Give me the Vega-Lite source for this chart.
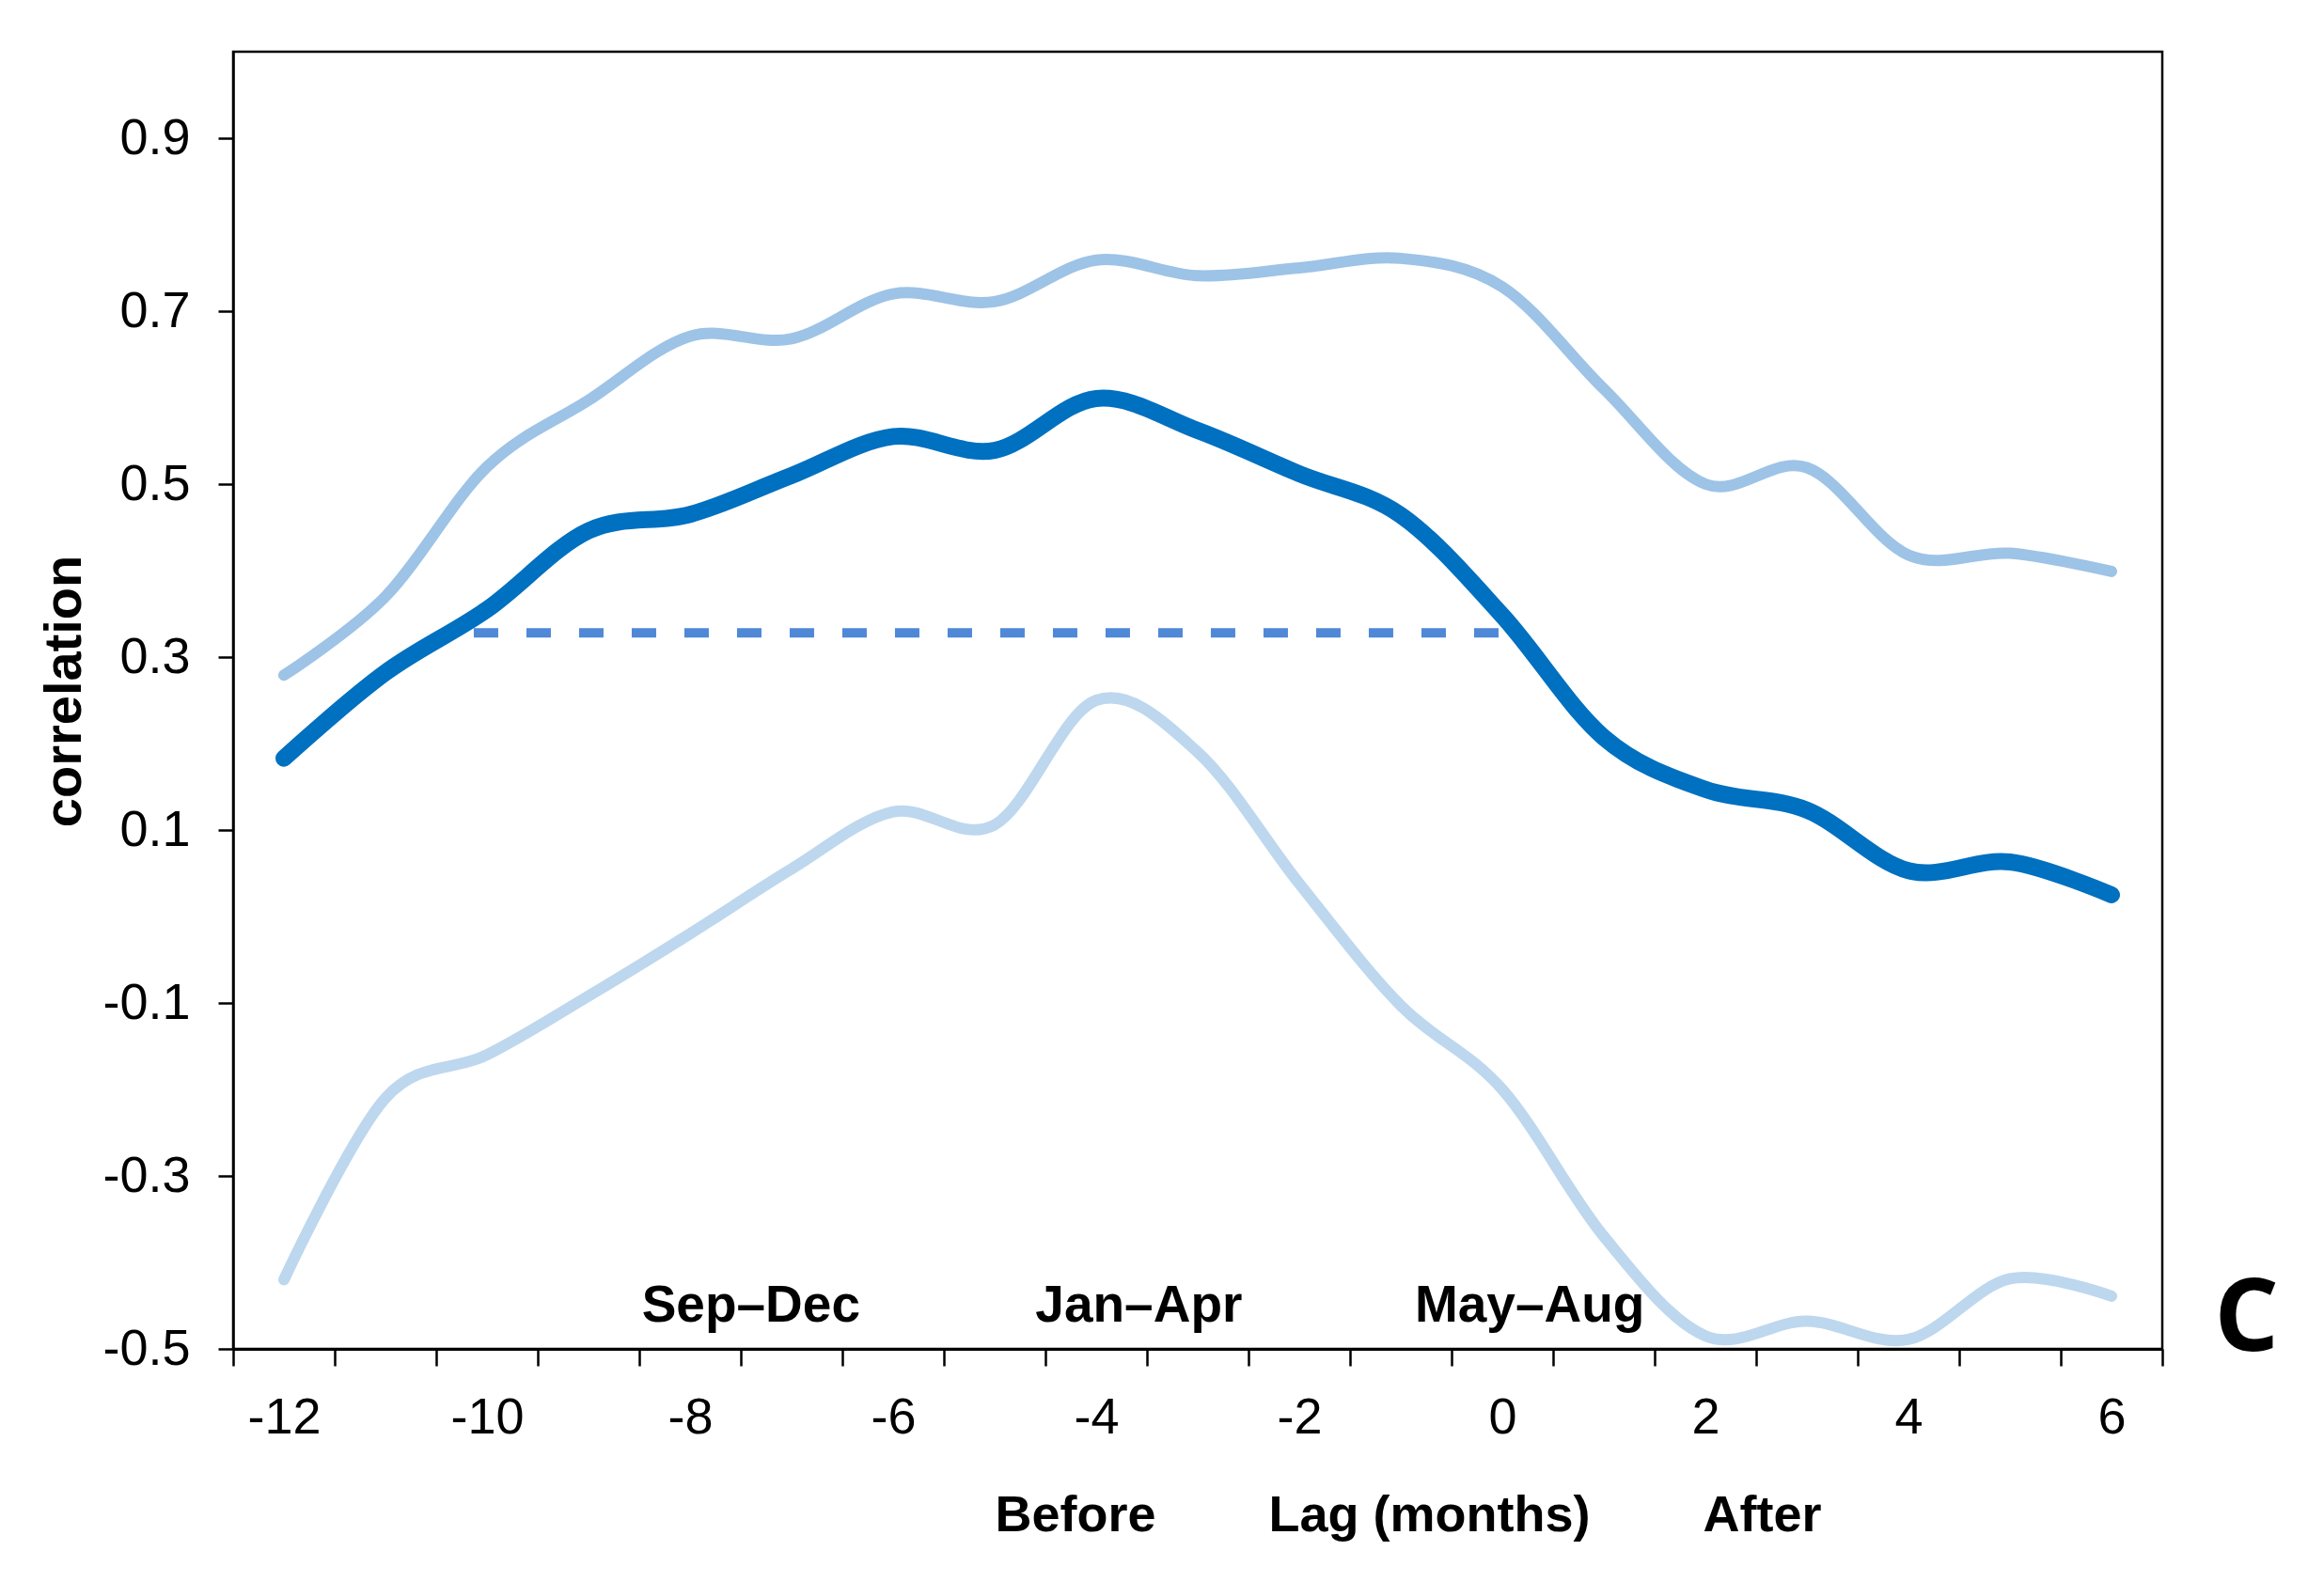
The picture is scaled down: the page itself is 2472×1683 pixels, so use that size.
{
  "$schema": "https://vega.github.io/schema/vega-lite/v6.json",
  "width": 2052,
  "height": 1380,
  "autosize": {"type": "none"},
  "padding": {"left": 248, "top": 55, "right": 172, "bottom": 248},
  "background": "white",
  "config": {
    "view": {"stroke": "#000000", "strokeWidth": 2.5},
    "font": "Liberation Sans"
  },
  "datasets": {
    "series": [
      {"lag": -12, "series": "upper", "correlation": 0.279},
      {"lag": -11, "series": "upper", "correlation": 0.37},
      {"lag": -10, "series": "upper", "correlation": 0.52},
      {"lag": -9, "series": "upper", "correlation": 0.597},
      {"lag": -8, "series": "upper", "correlation": 0.671},
      {"lag": -7, "series": "upper", "correlation": 0.668},
      {"lag": -6, "series": "upper", "correlation": 0.72},
      {"lag": -5, "series": "upper", "correlation": 0.711},
      {"lag": -4, "series": "upper", "correlation": 0.759},
      {"lag": -3, "series": "upper", "correlation": 0.741},
      {"lag": -2, "series": "upper", "correlation": 0.75},
      {"lag": -1, "series": "upper", "correlation": 0.761},
      {"lag": 0, "series": "upper", "correlation": 0.728},
      {"lag": 1, "series": "upper", "correlation": 0.61},
      {"lag": 2, "series": "upper", "correlation": 0.5},
      {"lag": 3, "series": "upper", "correlation": 0.519},
      {"lag": 4, "series": "upper", "correlation": 0.418},
      {"lag": 5, "series": "upper", "correlation": 0.42},
      {"lag": 6, "series": "upper", "correlation": 0.399},
      {"lag": -12, "series": "mean", "correlation": 0.183},
      {"lag": -11, "series": "mean", "correlation": 0.282},
      {"lag": -10, "series": "mean", "correlation": 0.355},
      {"lag": -9, "series": "mean", "correlation": 0.446},
      {"lag": -8, "series": "mean", "correlation": 0.465},
      {"lag": -7, "series": "mean", "correlation": 0.51},
      {"lag": -6, "series": "mean", "correlation": 0.555},
      {"lag": -5, "series": "mean", "correlation": 0.539},
      {"lag": -4, "series": "mean", "correlation": 0.599},
      {"lag": -3, "series": "mean", "correlation": 0.562},
      {"lag": -2, "series": "mean", "correlation": 0.512},
      {"lag": -1, "series": "mean", "correlation": 0.464},
      {"lag": 0, "series": "mean", "correlation": 0.348},
      {"lag": 1, "series": "mean", "correlation": 0.207},
      {"lag": 2, "series": "mean", "correlation": 0.147},
      {"lag": 3, "series": "mean", "correlation": 0.123},
      {"lag": 4, "series": "mean", "correlation": 0.053},
      {"lag": 5, "series": "mean", "correlation": 0.063},
      {"lag": 6, "series": "mean", "correlation": 0.025},
      {"lag": -12, "series": "lower", "correlation": -0.42},
      {"lag": -11, "series": "lower", "correlation": -0.21},
      {"lag": -10, "series": "lower", "correlation": -0.16},
      {"lag": -9, "series": "lower", "correlation": -0.092},
      {"lag": -8, "series": "lower", "correlation": -0.02},
      {"lag": -7, "series": "lower", "correlation": 0.055},
      {"lag": -6, "series": "lower", "correlation": 0.121},
      {"lag": -5, "series": "lower", "correlation": 0.106},
      {"lag": -4, "series": "lower", "correlation": 0.25},
      {"lag": -3, "series": "lower", "correlation": 0.19},
      {"lag": -2, "series": "lower", "correlation": 0.038},
      {"lag": -1, "series": "lower", "correlation": -0.103},
      {"lag": 0, "series": "lower", "correlation": -0.2},
      {"lag": 1, "series": "lower", "correlation": -0.37},
      {"lag": 2, "series": "lower", "correlation": -0.485},
      {"lag": 3, "series": "lower", "correlation": -0.468},
      {"lag": 4, "series": "lower", "correlation": -0.489},
      {"lag": 5, "series": "lower", "correlation": -0.419},
      {"lag": 6, "series": "lower", "correlation": -0.439}
    ],
    "threshold": [
      {"lag": -10.13, "lag_end": -0.03, "correlation": 0.328}
    ],
    "annotations": [
      {"lag": -7.4, "correlation": -0.4685, "label": "Sep–Dec"},
      {"lag": -3.58, "correlation": -0.4685, "label": "Jan–Apr"},
      {"lag": 0.27, "correlation": -0.4685, "label": "May–Aug"}
    ],
    "panel": [
      {"lag": 7.33, "correlation": -0.502, "label": "C"}
    ]
  },
  "layer": [
    {
      "data": {"name": "series"},
      "transform": [{"filter": "datum.series === 'upper'"}],
      "mark": {"type": "line", "interpolate": "cardinal", "tension": 0, "stroke": "#9DC3E6", "strokeWidth": 12, "strokeCap": "round"},
      "encoding": {
        "x": {
          "field": "lag",
          "type": "quantitative",
          "scale": {"domain": [-12.5, 6.5], "nice": false, "zero": false},
          "axis": {
            "values": [-12.5, -12, -11.5, -10.5, -10, -9.5, -8.5, -8, -7.5, -6.5, -6, -5.5, -4.5, -4, -3.5, -2.5, -2, -1.5, -0.5, 0, 0.5, 1.5, 2, 2.5, 3.5, 4, 4.5, 5.5, 6, 6.5],
            "labelExpr": "datum.value % 2 === 0 ? '' + datum.value : ''",
            "tickOpacity": {"condition": {"test": "datum.value % 1 === 0", "value": 0}, "value": 1},
            "tickSize": 18,
            "tickWidth": 2.5,
            "tickColor": "#000000",
            "domainColor": "#000000",
            "domainWidth": 3,
            "grid": false,
            "labelFontSize": 54,
            "labelColor": "#000000",
            "labelPadding": 28,
            "labelOverlap": false,
            "labelFlush": false,
            "labelBound": false,
            "title": "Before\u00a0\u00a0\u00a0\u00a0\u00a0\u00a0\u00a0\u00a0Lag (months)\u00a0\u00a0\u00a0\u00a0\u00a0\u00a0\u00a0\u00a0After",
            "titleFontSize": 54,
            "titleFontWeight": "bold",
            "titleColor": "#000000",
            "titleX": 810,
            "titleY": 193,
            "titleAlign": "left",
            "titleAnchor": "start",
            "titleBaseline": "alphabetic",
            "titleAngle": 0
          }
        },
        "y": {
          "field": "correlation",
          "type": "quantitative",
          "scale": {"domain": [-0.5, 1.0], "nice": false, "zero": false},
          "axis": {
            "values": [-0.5, -0.3, -0.1, 0.1, 0.3, 0.5, 0.7, 0.9],
            "labelExpr": "'' + datum.value",
            "tickSize": 16,
            "tickWidth": 2.5,
            "tickColor": "#000000",
            "domainColor": "#000000",
            "domainWidth": 2.5,
            "grid": false,
            "labelFontSize": 54,
            "labelColor": "#000000",
            "labelPadding": 30,
            "labelOverlap": false,
            "labelFlush": false,
            "labelBound": false,
            "title": "correlation",
            "titleFontSize": 56,
            "titleFontWeight": "bold",
            "titleColor": "#000000",
            "titleAngle": -90,
            "titleX": -163,
            "titleY": 680,
            "titleAlign": "center",
            "titleBaseline": "alphabetic"
          }
        }
      }
    },
    {
      "data": {"name": "series"},
      "transform": [{"filter": "datum.series === 'lower'"}],
      "mark": {"type": "line", "interpolate": "cardinal", "tension": 0, "stroke": "#BDD7EE", "strokeWidth": 12, "strokeCap": "round"},
      "encoding": {
        "x": {"field": "lag", "type": "quantitative"},
        "y": {"field": "correlation", "type": "quantitative"}
      }
    },
    {
      "data": {"name": "threshold"},
      "mark": {"type": "rule", "stroke": "#4F88D6", "strokeWidth": 10, "strokeDash": [26, 30]},
      "encoding": {
        "x": {"field": "lag", "type": "quantitative"},
        "x2": {"field": "lag_end"},
        "y": {"field": "correlation", "type": "quantitative"}
      }
    },
    {
      "data": {"name": "series"},
      "transform": [{"filter": "datum.series === 'mean'"}],
      "mark": {"type": "line", "interpolate": "cardinal", "tension": 0, "stroke": "#0070C0", "strokeWidth": 18, "strokeCap": "round"},
      "encoding": {
        "x": {"field": "lag", "type": "quantitative"},
        "y": {"field": "correlation", "type": "quantitative"}
      }
    },
    {
      "data": {"name": "annotations"},
      "mark": {"type": "text", "fontSize": 55, "fontWeight": "bold", "color": "#000000", "align": "center", "baseline": "alphabetic", "font": "Liberation Sans"},
      "encoding": {
        "x": {"field": "lag", "type": "quantitative"},
        "y": {"field": "correlation", "type": "quantitative"},
        "text": {"field": "label"}
      }
    },
    {
      "data": {"name": "panel"},
      "mark": {"type": "text", "fontSize": 108, "fontWeight": "bold", "color": "#000000", "align": "center", "baseline": "alphabetic", "font": "Open Sans"},
      "encoding": {
        "x": {"field": "lag", "type": "quantitative"},
        "y": {"field": "correlation", "type": "quantitative"},
        "text": {"field": "label"}
      }
    }
  ]
}
